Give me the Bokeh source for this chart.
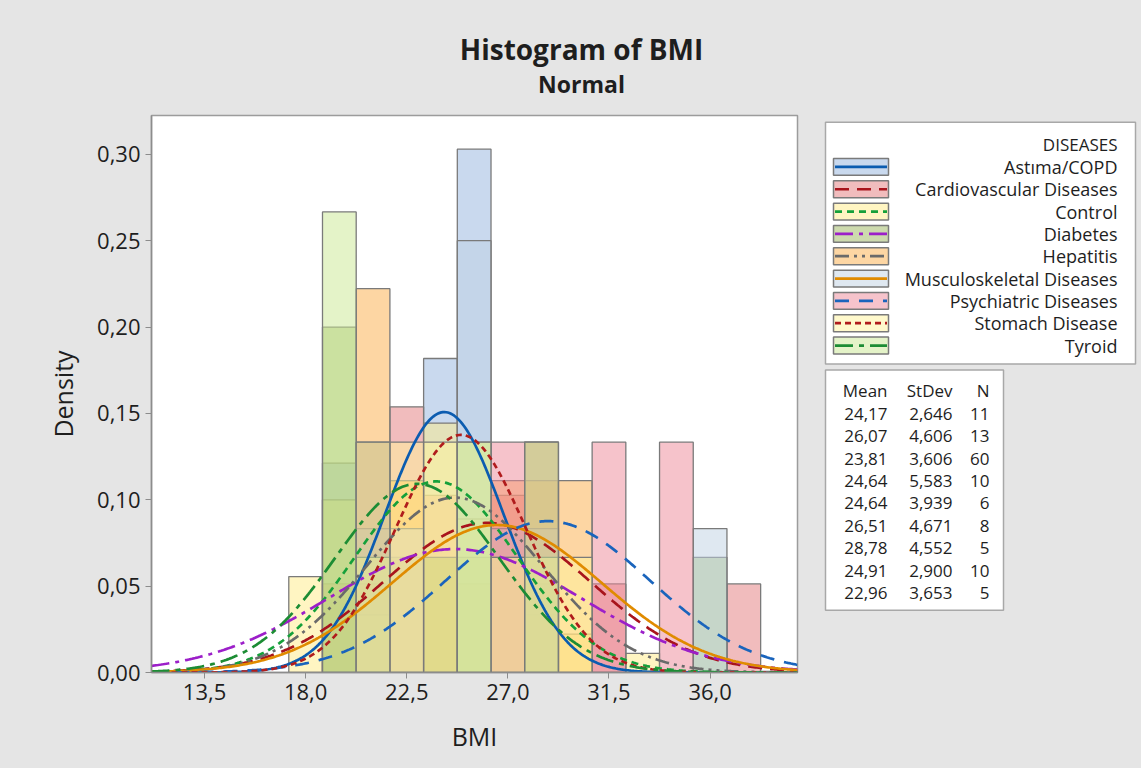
import numpy as np
from bokeh.plotting import figure
from bokeh.layouts import column, row
from bokeh.models import Range1d, FixedTicker, CustomJSTickFormatter, ColumnDataSource
from bokeh.core.properties import value
from bokeh.embed import file_html
from bokeh.resources import INLINE

# ---------------- data ----------------
groups = ["Astıma/COPD", "Cardiovascular Diseases", "Control", "Diabetes",
          "Hepatitis", "Musculoskeletal Diseases", "Psychiatric Diseases",
          "Stomach Disease", "Tyroid"]
means = [24.17, 26.07, 23.81, 24.64, 24.64, 26.51, 28.78, 24.91, 22.96]
stdevs = [2.646, 4.606, 3.606, 5.583, 3.939, 4.671, 4.552, 2.900, 3.653]
ns = [11, 13, 60, 10, 6, 8, 5, 10, 5]

bin_width = 1.5
bin_centers = [18.0, 19.5, 21.0, 22.5, 24.0, 25.5, 27.0, 28.5, 30.0, 31.5, 33.0, 34.5, 36.0, 37.5]
counts_astima = [0, 2, 0, 0, 3, 5, 1, 0, 0, 0, 0, 0, 0, 0]
counts_cardio = [0, 1, 1, 3, 2, 1, 2, 1, 0, 1, 0, 0, 0, 1]
counts_control = [5, 9, 3, 10, 13, 8, 6, 3, 2, 0, 1, 0, 0, 0]
counts_diabetes = [0, 3, 0, 1, 1, 1, 1, 2, 0, 0, 0, 0, 1, 0]
counts_hepatitis = [0, 0, 2, 1, 0, 0, 1, 1, 1, 0, 0, 0, 0, 0]
counts_musculo = [0, 0, 1, 1, 0, 3, 1, 1, 0, 0, 0, 0, 1, 0]
counts_psych = [0, 0, 1, 0, 0, 0, 1, 1, 0, 1, 0, 1, 0, 0]
counts_stomach = [0, 0, 1, 2, 2, 2, 1, 1, 1, 0, 0, 0, 0, 0]
counts_tyroid = [0, 2, 1, 0, 0, 1, 0, 1, 0, 0, 0, 0, 0, 0]
all_counts = [counts_astima, counts_cardio, counts_control, counts_diabetes,
              counts_hepatitis, counts_musculo, counts_psych, counts_stomach,
              counts_tyroid]

x_ticks = [13.5, 18.0, 22.5, 27.0, 31.5, 36.0]
y_ticks = [0.0, 0.05, 0.10, 0.15, 0.20, 0.25, 0.30]
x_lo, x_hi = 11.14, 39.89
y_lo, y_hi = 0.0, 0.3225

# ---------------- styles ----------------
FONT = "Open Sans"
TXT = "#1e1e1e"
BG = "#e5e5e5"
fill_colors = ["#93b3dd", "#e3797b", "#ffeb85", "#9bb55d", "#fbad47",
               "#bfd1e3", "#ed8797", "#fff399", "#c9e791"]
line_colors = ["#0b5cb0", "#a8141c", "#15a03a", "#9c1fc9", "#6a6a6a",
               "#e08b00", "#1a64bc", "#b01c1c", "#1c8c34"]
line_dashes = ["solid", "14 8", "7 5", "18 6 4 6", "14 5 3 5 3 5",
               "solid", "14 10", "6 4", "18 6 5 6"]
FILL_ALPHA = 0.5

W, H = 1141, 768
TOP_H = 107
LEFT_W = 812
SIDE_W = W - LEFT_W
BODY_H = H - TOP_H


def bare(fig):
    fig.border_fill_color = BG
    fig.background_fill_color = BG
    fig.outline_line_color = None
    fig.grid.visible = False
    return fig


# ---------------- title strip ----------------
pt = bare(figure(width=W, height=TOP_H, x_range=Range1d(0, W), y_range=Range1d(TOP_H, 0),
                 output_backend="svg", toolbar_location=None, title=None,
                 x_axis_location=None, y_axis_location=None,
                 min_border=0, min_border_left=0, min_border_right=0,
                 min_border_top=0, min_border_bottom=0))
pt.text(x=[581], y=[48], text=["Histogram of BMI"], text_align="center",
        text_baseline="middle", text_font=value(FONT), text_font_size=value("28px"),
        text_font_style="bold", text_color=TXT)
pt.text(x=[581], y=[83], text=["Normal"], text_align="center",
        text_baseline="middle", text_font=value(FONT), text_font_size=value("23px"),
        text_font_style="bold", text_color=TXT)

# ---------------- main histogram ----------------
p = figure(width=LEFT_W, height=BODY_H, output_backend="svg", toolbar_location=None,
           title=None, x_range=Range1d(x_lo, x_hi), y_range=Range1d(y_lo, y_hi),
           min_border_left=151, min_border_right=LEFT_W - 797,
           min_border_top=115 - TOP_H, min_border_bottom=H - 672)
p.border_fill_color = BG
p.background_fill_color = "white"
p.outline_line_color = "#9c9c9c"
p.outline_line_width = 1.5
p.grid.visible = False

for g, cnts in enumerate(all_counts):
    n = ns[g]
    lefts, rights, tops = [], [], []
    for c, k in zip(bin_centers, cnts):
        if k > 0:
            lefts.append(c - bin_width / 2)
            rights.append(c + bin_width / 2)
            tops.append(k / (n * bin_width))
    src = ColumnDataSource(dict(left=lefts, right=rights, top=tops,
                                bottom=[0] * len(tops)))
    p.quad(left="left", right="right", top="top", bottom="bottom", source=src,
           fill_color=fill_colors[g], fill_alpha=FILL_ALPHA,
           line_color="#7a7a7a", line_width=1.3)

xs = np.linspace(x_lo, x_hi, 400)
for g in range(len(groups)):
    m, s = means[g], stdevs[g]
    ys = np.exp(-0.5 * ((xs - m) / s) ** 2) / (s * np.sqrt(2 * np.pi))
    p.line(xs, ys, line_color=line_colors[g], line_width=2.7,
           line_dash=line_dashes[g])

for ax in (p.xaxis[0], p.yaxis[0]):
    ax.major_label_text_font = FONT
    ax.major_label_text_font_size = "22px"
    ax.major_label_text_color = TXT
    ax.axis_label_text_font = FONT
    ax.axis_label_text_font_size = "25px"
    ax.axis_label_text_font_style = "normal"
    ax.axis_label_text_color = TXT
    ax.axis_line_color = "#8c8c8c"
    ax.axis_line_width = 1.5
    ax.major_tick_line_color = "#8c8c8c"
    ax.major_tick_out = 6
    ax.major_tick_in = 0
    ax.minor_tick_line_color = None

p.xaxis.ticker = FixedTicker(ticks=x_ticks)
p.xaxis.formatter = CustomJSTickFormatter(code="return tick.toFixed(1).replace('.', ',');")
p.xaxis.axis_label = "BMI"
p.xaxis.major_label_standoff = 5
p.xaxis.axis_label_standoff = 16

p.yaxis.ticker = FixedTicker(ticks=y_ticks)
p.yaxis.formatter = CustomJSTickFormatter(code="return tick.toFixed(2).replace('.', ',');")
p.yaxis.axis_label = "Density"
p.yaxis.major_label_standoff = 5
p.yaxis.axis_label_standoff = 14

# ---------------- legend & statistics panel ----------------
ps = bare(figure(width=SIDE_W, height=BODY_H, x_range=Range1d(LEFT_W, W),
                 y_range=Range1d(H, TOP_H), output_backend="svg",
                 toolbar_location=None, title=None,
                 x_axis_location=None, y_axis_location=None,
                 min_border=0, min_border_left=0, min_border_right=0,
                 min_border_top=0, min_border_bottom=0))

ps.quad(left=[825], right=[1135], top=[115], bottom=[402], fill_color="white",
        line_color="#a8a8a8", line_width=1.5)
ps.text(x=[1117], y=[142], text=["DISEASES"], text_align="right", text_baseline="middle",
        text_font=value(FONT), text_font_size=value("17px"), text_color=TXT)
row_y = [168 + 26.5 * i for i in range(len(groups))]
ps.quad(left=[833] * len(groups), right=[888] * len(groups),
        top=[y - 10 for y in row_y], bottom=[y + 10 for y in row_y],
        fill_color=fill_colors, fill_alpha=FILL_ALPHA, line_color="#7a7a7a",
        line_width=1.5)
for i in range(len(groups)):
    ps.segment(x0=[834.5], y0=[row_y[i]], x1=[886.5], y1=[row_y[i]],
               line_color=line_colors[i], line_width=2.7, line_dash=line_dashes[i])
ps.text(x=[1117] * len(groups), y=row_y, text=groups, text_align="right",
        text_baseline="middle", text_font=value(FONT), text_font_size=value("18px"),
        text_color=TXT)

ps.quad(left=[825], right=[1003], top=[409], bottom=[694], fill_color="white",
        line_color="#a8a8a8", line_width=1.5)
ps.text(x=[887, 952, 989], y=[433, 433, 433], text=["Mean", "StDev", "N"],
        text_align="right", text_baseline="middle", text_font=value(FONT),
        text_font_size=value("17px"), text_color=TXT)
st_y = [461 + 26.6 * i for i in range(len(groups))]
mean_txt = [f"{m:.2f}".replace(".", ",") for m in means]
sd_txt = [f"{s:.3f}".replace(".", ",") for s in stdevs]
n_txt = [str(n) for n in ns]
for xcol, col in ((887, mean_txt), (952, sd_txt), (989, n_txt)):
    ps.text(x=[xcol] * len(col), y=st_y, text=col, text_align="right",
            text_baseline="middle", text_font=value(FONT),
            text_font_size=value("17px"), text_color=TXT)

body = row(p, ps, spacing=0, styles={"background-color": BG})
layout = column(pt, body, spacing=0, styles={"background-color": BG})
open("out.html", "w").write(file_html(layout, INLINE))
